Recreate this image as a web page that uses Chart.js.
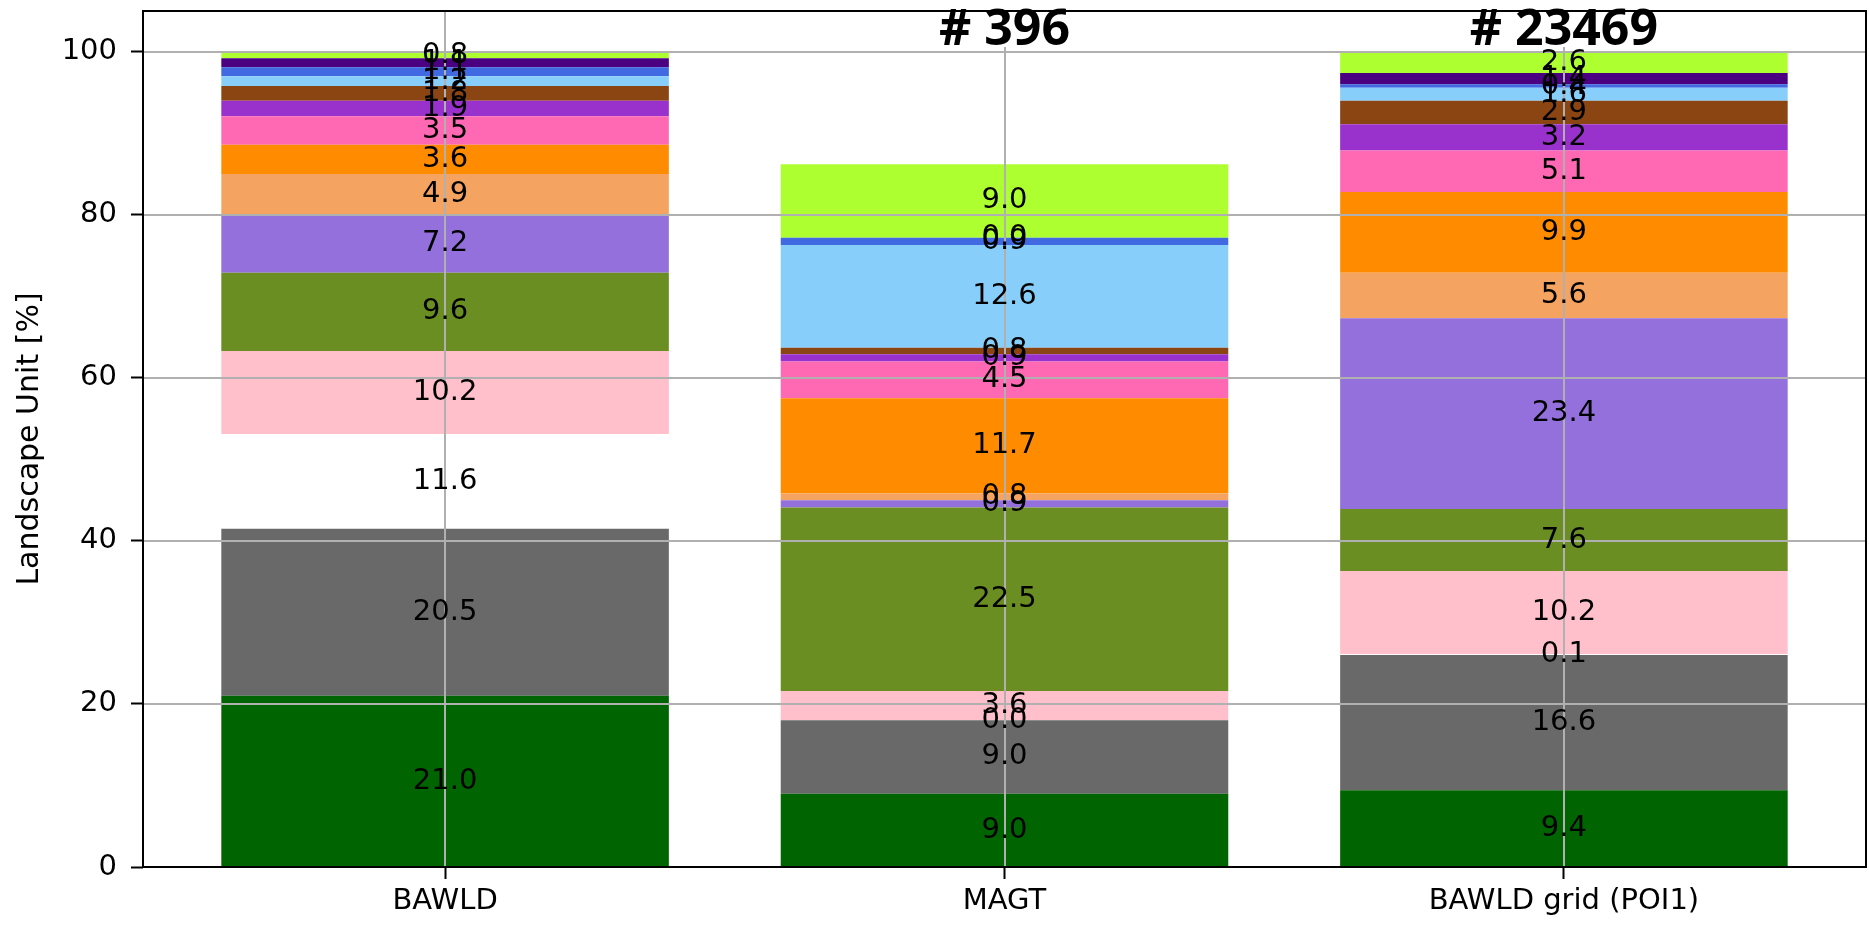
<!DOCTYPE html>
<html>
<head>
<meta charset="utf-8">
<script src="https://cdn.jsdelivr.net/npm/chart.js@4.4.1/dist/chart.umd.min.js"></script>
<style>
  html, body { margin: 0; padding: 0; background: #fff; }
  #wrap { width: 1869px; height: 936px; }
</style>
</head>
<body>
<div id="wrap"><canvas id="c" width="1869" height="936"></canvas></div>
<script>
// Landscape-unit shares (%) per source, stacked bottom to top
const categories = ['BAWLD', 'MAGT', 'BAWLD grid (POI1)'];
const sampleCounts = ['', '# 396', '# 23469'];
const unitColors = [
  '#006400', '#696969', '#ffffff', '#ffc0cb', '#6b8e23',
  '#9370db', '#f4a460', '#ff8c00', '#ff69b4', '#9932cc',
  '#8b4513', '#87cefa', '#4169e1', '#4b0082', '#adff2f'
];
const bawld     = [21.0, 20.5, 11.6, 10.2,  9.6,  7.2, 4.9,  3.6, 3.5, 1.9, 1.8,  1.2, 1.1, 1.1, 0.8];
const magt      = [ 9.0,  9.0,  0.0,  3.6, 22.5,  0.9, 0.8, 11.7, 4.5, 0.9, 0.8, 12.6, 0.9, 0.0, 9.0];
const bawldGrid = [ 9.4, 16.6,  0.1, 10.2,  7.6, 23.4, 5.6,  9.9, 5.1, 3.2, 2.9,  1.6, 0.4, 1.4, 2.6];
const yTicks = [0, 20, 40, 60, 80, 100];

const tickFont = { family: 'DejaVu Sans', size: 29 };

const datasets = unitColors.map((color, k) => ({
  label: 'Unit ' + (k + 1),
  data: [bawld[k], magt[k], bawldGrid[k]].map((v, i) => ({ x: i, y: v })),
  backgroundColor: color,
  borderWidth: 0
}));

// grid on top of the bars, centred value labels, axes frame, sample counts
const overlay = {
  id: 'overlay',
  afterDatasetsDraw(chart) {
    const { ctx, chartArea: a, scales: { x, y } } = chart;
    ctx.save();

    ctx.strokeStyle = '#b0b0b0';
    ctx.lineWidth = 2;
    ctx.beginPath();
    yTicks.forEach(v => {
      const py = Math.round(y.getPixelForValue(v));
      ctx.moveTo(a.left, py); ctx.lineTo(a.right, py);
    });
    categories.forEach((_, i) => {
      const px = Math.round(x.getPixelForValue(i));
      ctx.moveTo(px, a.top); ctx.lineTo(px, a.bottom);
    });
    ctx.stroke();

    ctx.font = '29px "DejaVu Sans"';
    ctx.fillStyle = '#000';
    ctx.textAlign = 'center';
    ctx.textBaseline = 'middle';
    chart.data.datasets.forEach((ds, di) => {
      chart.getDatasetMeta(di).data.forEach((bar, i) => {
        const p = bar.getProps(['x', 'y', 'base'], true);
        ctx.fillText(ds.data[i].y.toFixed(1), p.x, (p.y + p.base) / 2);
      });
    });

    ctx.strokeStyle = '#000';
    ctx.lineWidth = 2;
    ctx.strokeRect(a.left, a.top, a.right - a.left, a.bottom - a.top);

    ctx.font = 'bold 50px "Open Sans"';
    ctx.textBaseline = 'alphabetic';
    sampleCounts.forEach((t, i) => {
      if (!t) return;
      const px = x.getPixelForValue(i);
      const w = ctx.measureText(t).width;
      ctx.fillStyle = '#fff';
      ctx.fillRect(px - w / 2, a.top + 2, w, 34);
      ctx.fillStyle = '#000';
      ctx.fillText(t, px, a.top + 34);
    });
    ctx.restore();
  }
};

new Chart(document.getElementById('c'), {
  type: 'bar',
  data: { datasets },
  plugins: [overlay],
  options: {
    responsive: false,
    animation: false,
    layout: { padding: { left: 4, right: 3, top: 11, bottom: 0 } },
    plugins: { legend: { display: false }, tooltip: { enabled: false } },
    datasets: { bar: { barPercentage: 0.8, categoryPercentage: 1.0 } },
    scales: {
      x: {
        type: 'linear',
        stacked: true,
        min: -0.54,
        max: 2.54,
        offset: false,
        afterBuildTicks: s => { s.ticks = categories.map((_, i) => ({ value: i })); },
        afterFit: s => { s.height = 69; s.paddingLeft = 0; s.paddingRight = 0; },
        ticks: {
          callback: v => categories[v],
          font: tickFont,
          color: '#000',
          padding: 5,
          maxRotation: 0,
          autoSkip: false
        },
        grid: { offset: false, drawOnChartArea: false, tickColor: '#000', tickLength: 12, tickWidth: 2 },
        border: { display: false }
      },
      y: {
        stacked: true,
        min: 0,
        max: 105,
        afterBuildTicks: s => { s.ticks = yTicks.map(v => ({ value: v })); },
        afterFit: s => { s.width = 139; s.paddingTop = 0; s.paddingBottom = 0; },
        ticks: { font: tickFont, color: '#000', padding: 14 },
        grid: { drawOnChartArea: false, tickColor: '#000', tickLength: 12, tickWidth: 2 },
        border: { display: false },
        title: {
          display: true,
          text: 'Landscape Unit [%]',
          font: { family: 'DejaVu Sans', size: 30 },
          color: '#000',
          padding: { top: 8, bottom: 0 }
        }
      }
    }
  }
});
</script>
</body>
</html>
